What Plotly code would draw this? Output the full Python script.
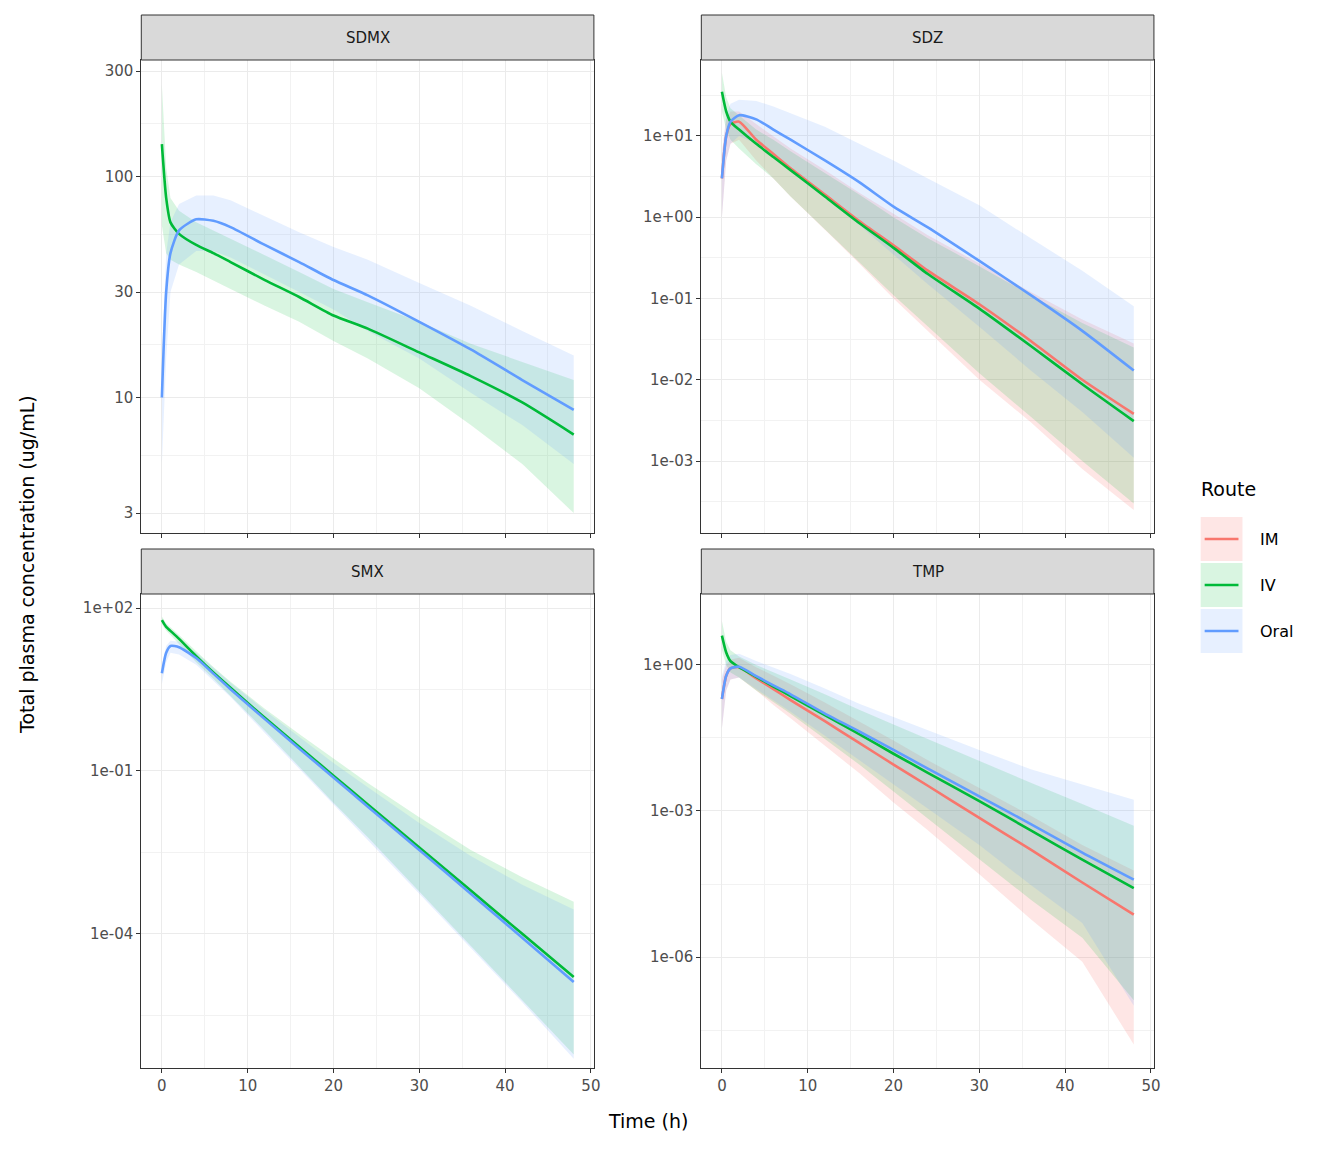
import plotly.graph_objects as go

time_h = [0, 0.5, 1, 2, 4, 6, 8, 12, 16, 20, 24, 30, 36, 42, 48]
routes = ["IM", "IV", "Oral"]
drugs = ["SDMX", "SDZ", "SMX", "TMP"]
colors = {"IM": "#F8766D", "IV": "#00BA38", "Oral": "#619CFF"}
fills = {"IM": "rgba(248,118,109,0.18)", "IV": "rgba(0,186,56,0.15)", "Oral": "rgba(97,156,255,0.15)"}

SDMX_IV_med = [140, 80, 62, 55, 49, 45, 41, 34, 28.5, 23.5, 20.5, 16, 12.5, 9.5, 6.8]
SDMX_IV_lo = [60, 45, 42, 40, 37, 34, 31, 26, 22, 18, 15, 11, 7.5, 5, 3]
SDMX_IV_hi = [260, 110, 80, 70, 62, 57, 52, 44, 37, 31, 27, 22, 17.5, 14.5, 12]
SDMX_Oral_med = [10, 30, 45, 57, 64, 63, 59, 49, 41, 34, 29, 22, 16.5, 12, 8.8]
SDMX_Oral_lo = [5, 15, 30, 40, 46, 46, 43, 36, 30, 25, 20, 15, 10.5, 7.5, 5]
SDMX_Oral_hi = [15, 45, 62, 75, 82, 82, 78, 66, 56, 48, 42, 33, 26, 20, 15.5]

SDZ_IM_med = [3, 10, 14, 15, 9, 6, 4, 1.9, 0.9, 0.45, 0.22, 0.085, 0.03, 0.01, 0.0038]
SDZ_IM_lo = [1, 5, 8, 9, 5, 3, 1.8, 0.7, 0.27, 0.1, 0.04, 0.01, 0.003, 0.0008, 0.00025]
SDZ_IM_hi = [6, 16, 20, 20, 14, 10, 7, 3.8, 2, 1.1, 0.6, 0.27, 0.12, 0.055, 0.028]
SDZ_IV_med = [35, 20, 15, 12, 8, 5.5, 3.8, 1.8, 0.85, 0.42, 0.2, 0.075, 0.026, 0.0088, 0.0031]
SDZ_IV_lo = [20, 12, 9, 7, 4.5, 3, 1.8, 0.7, 0.28, 0.11, 0.045, 0.012, 0.0035, 0.001, 0.0003]
SDZ_IV_hi = [60, 30, 22, 18, 12, 9, 6.5, 3.5, 1.9, 1.0, 0.55, 0.25, 0.11, 0.05, 0.025]
SDZ_Oral_med = [3, 10, 15, 18, 16, 12, 9, 5, 2.7, 1.35, 0.75, 0.29, 0.11, 0.04, 0.013]
SDZ_Oral_lo = [1, 5, 8, 10, 8, 5.5, 4, 1.9, 0.8, 0.35, 0.15, 0.045, 0.013, 0.004, 0.0011]
SDZ_Oral_hi = [6, 18, 25, 28, 27, 23, 19, 13, 8, 5, 3, 1.4, 0.55, 0.22, 0.08]

SMX_IV_med = [60, 45, 38, 27, 13, 6.5, 3.4, 0.95, 0.28, 0.082, 0.024, 0.0039, 6.3e-4, 1.0e-4, 1.6e-5]
SMX_IV_lo = [50, 38, 32, 22, 10, 5, 2.4, 0.55, 0.12, 0.026, 0.006, 6e-4, 6e-5, 6e-6, 6e-7]
SMX_IV_hi = [70, 52, 44, 32, 16, 8.2, 4.4, 1.4, 0.48, 0.17, 0.06, 0.014, 0.0035, 0.0011, 3.9e-4]
SMX_Oral_med = [6.3, 15, 20, 19, 12, 6.2, 3.2, 0.9, 0.26, 0.076, 0.022, 0.0035, 5.5e-4, 8.5e-5, 1.3e-5]
SMX_Oral_lo = [4, 10, 15, 14, 9, 4.6, 2.3, 0.5, 0.11, 0.024, 0.0055, 5.5e-4, 5.5e-5, 5.5e-6, 5e-7]
SMX_Oral_hi = [9, 20, 25, 24, 15, 7.8, 4.2, 1.3, 0.42, 0.14, 0.05, 0.011, 0.0027, 8e-4, 2.8e-4]

TMP_IM_med = [0.2, 0.6, 0.85, 0.9, 0.53, 0.32, 0.19, 0.07, 0.025, 0.009, 0.0033, 7.2e-4, 1.6e-4, 3.4e-5, 7.4e-6]
TMP_IM_lo = [0.05, 0.3, 0.5, 0.55, 0.3, 0.15, 0.08, 0.022, 0.006, 0.0015, 4e-4, 5e-5, 6e-6, 8e-7, 1.6e-8]
TMP_IM_hi = [0.5, 1.0, 1.3, 1.4, 0.9, 0.6, 0.4, 0.17, 0.07, 0.028, 0.011, 0.003, 8e-4, 2e-4, 6e-5]
TMP_IV_med = [4, 1.8, 1.2, 0.9, 0.57, 0.36, 0.23, 0.093, 0.038, 0.015, 0.0061, 0.0016, 4e-4, 1e-4, 2.6e-5]
TMP_IV_lo = [2.0, 1.0, 0.7, 0.55, 0.3, 0.17, 0.1, 0.03, 0.009, 0.0025, 7e-4, 1e-4, 1.5e-5, 2.5e-6, 1.3e-7]
TMP_IV_hi = [8, 3, 2, 1.5, 1.0, 0.7, 0.5, 0.25, 0.12, 0.06, 0.03, 0.011, 0.0038, 0.0014, 5e-4]
TMP_Oral_med = [0.2, 0.6, 0.85, 0.92, 0.59, 0.38, 0.25, 0.10, 0.043, 0.018, 0.0074, 0.002, 5.4e-4, 1.4e-4, 3.9e-5]
TMP_Oral_lo = [0.05, 0.3, 0.5, 0.55, 0.32, 0.19, 0.11, 0.035, 0.011, 0.0035, 0.0011, 2e-4, 3e-5, 5e-6, 1e-7]
TMP_Oral_hi = [0.6, 1.2, 1.6, 1.7, 1.2, 0.9, 0.65, 0.33, 0.16, 0.085, 0.045, 0.018, 0.0072, 0.0035, 1.7e-3]

data = {
    "SDMX": {"IV": (SDMX_IV_med, SDMX_IV_lo, SDMX_IV_hi), "Oral": (SDMX_Oral_med, SDMX_Oral_lo, SDMX_Oral_hi)},
    "SDZ": {"IM": (SDZ_IM_med, SDZ_IM_lo, SDZ_IM_hi), "IV": (SDZ_IV_med, SDZ_IV_lo, SDZ_IV_hi), "Oral": (SDZ_Oral_med, SDZ_Oral_lo, SDZ_Oral_hi)},
    "SMX": {"IV": (SMX_IV_med, SMX_IV_lo, SMX_IV_hi), "Oral": (SMX_Oral_med, SMX_Oral_lo, SMX_Oral_hi)},
    "TMP": {"IM": (TMP_IM_med, TMP_IM_lo, TMP_IM_hi), "IV": (TMP_IV_med, TMP_IV_lo, TMP_IV_hi), "Oral": (TMP_Oral_med, TMP_Oral_lo, TMP_Oral_hi)},
}

y_ticks = {
    "SDMX": ([3, 10, 30, 100, 300], ["3", "10", "30", "100", "300"]),
    "SDZ": ([1e-3, 1e-2, 1e-1, 1, 10], ["1e-03", "1e-02", "1e-01", "1e+00", "1e+01"]),
    "SMX": ([1e-4, 1e-1, 1e2], ["1e-04", "1e-01", "1e+02"]),
    "TMP": ([1e-6, 1e-3, 1], ["1e-06", "1e-03", "1e+00"]),
}
y_minor = {
    "SDMX": [5.477, 17.32, 54.77, 173.2],
    "SDZ": [10**-3.5, 10**-2.5, 10**-1.5, 10**-0.5, 10**0.5, 10**1.5],
    "SMX": [10**-5.5, 10**-2.5, 10**0.5],
    "TMP": [10**-7.5, 10**-4.5, 10**-1.5],
}
y_range = {"SDMX": [0.387, 2.527], "SDZ": [-3.886, 1.935], "SMX": [-6.47, 2.258], "TMP": [-8.28, 1.458]}

OFF = 8
W, H = 1344 - 2 * OFF, 1152 - 2 * OFF
def px(v): return (v - OFF) / W
def py(v): return 1 - (v - OFF) / H

xdom = [[px(142), px(597)], [px(705), px(1160)]]
ydom = [[py(533), py(60)], [py(1068), py(594)]]
strip = [[py(60), py(15)], [py(594), py(549)]]

fig = go.Figure()
layout = dict(width=W, height=H, margin=dict(l=0, r=0, t=0, b=0), plot_bgcolor="white",
              paper_bgcolor="white", showlegend=False, font=dict(family="DejaVu Sans", color="#4D4D4D"))
shapes, annots = [], []
for i, d in enumerate(drugs):
    r, c = divmod(i, 2)
    n = i + 1
    xa, ya = ("x" if n == 1 else f"x{n}"), ("y" if n == 1 else f"y{n}")
    for rt in routes:
        if rt not in data[d]:
            continue
        med, lo, hi = data[d][rt]
        fig.add_trace(go.Scatter(x=time_h, y=lo, mode="lines", line=dict(width=0), xaxis=xa, yaxis=ya, hoverinfo="skip"))
        fig.add_trace(go.Scatter(x=time_h, y=hi, mode="lines", line=dict(width=0), fill="tonexty",
                                 fillcolor=fills[rt], xaxis=xa, yaxis=ya, hoverinfo="skip"))
    for rt in routes:
        if rt not in data[d]:
            continue
        med = data[d][rt][0]
        fig.add_trace(go.Scatter(x=time_h, y=med, mode="lines", line=dict(color=colors[rt], width=2.6, shape="spline", smoothing=0.6),
                                 xaxis=xa, yaxis=ya, name=rt))
    tv, tt = y_ticks[d]
    layout["xaxis" + ("" if n == 1 else str(n))] = dict(
        domain=xdom[c], anchor=ya, range=[-2.4, 50.35], tickvals=[0, 10, 20, 30, 40, 50],
        showticklabels=(r == 1), ticks="outside", ticklen=4, tickcolor="#333333",
        tickfont=dict(size=15, color="#4D4D4D"), showgrid=True, gridcolor="#EBEBEB", gridwidth=1.4,
        minor=dict(tickvals=[5, 15, 25, 35, 45], showgrid=True, gridcolor="#F2F2F2", gridwidth=0.7, ticks=""),
        showline=True, linecolor="#333333", linewidth=1, mirror=True, zeroline=False)
    layout["yaxis" + ("" if n == 1 else str(n))] = dict(
        domain=ydom[r], anchor=xa, type="log", range=y_range[d], tickvals=tv, ticktext=tt,
        ticks="outside", ticklen=4, tickcolor="#333333", tickfont=dict(size=15, color="#4D4D4D"),
        showgrid=True, gridcolor="#EBEBEB", gridwidth=1.4,
        minor=dict(tickvals=y_minor[d], showgrid=True, gridcolor="#F2F2F2", gridwidth=0.7, ticks=""),
        showline=True, linecolor="#333333", linewidth=1, mirror=True, zeroline=False)
    shapes.append(dict(type="rect", xref="paper", yref="paper", x0=xdom[c][0], x1=xdom[c][1],
                       y0=strip[r][0], y1=strip[r][1], fillcolor="#D9D9D9", line=dict(color="#333333", width=1)))
    annots.append(dict(text=d, xref="paper", yref="paper", x=sum(xdom[c]) / 2, y=sum(strip[r]) / 2,
                       xanchor="center", yanchor="middle",
                       showarrow=False, font=dict(size=15, color="#1A1A1A")))

annots.append(dict(text="Time (h)", xref="paper", yref="paper", x=px((142 + 1160) / 2), y=py(1121),
                   xanchor="center", yanchor="middle", showarrow=False, font=dict(size=19, color="black")))
annots.append(dict(text="Total plasma concentration (ug/mL)", xref="paper", yref="paper", x=px(27), y=py(564),
                   xanchor="center", yanchor="middle", textangle=-90, showarrow=False, font=dict(size=19, color="black")))
annots.append(dict(text="Route", xref="paper", yref="paper", x=px(1205), y=py(489), xanchor="left",
                   yanchor="middle", showarrow=False, font=dict(size=19, color="black")))
for k, rt in enumerate(routes):
    yc = 539 + 46 * k
    shapes.append(dict(type="rect", xref="paper", yref="paper", x0=px(1207), x1=px(1249),
                       y0=py(yc + 22), y1=py(yc - 22), fillcolor=fills[rt], line=dict(width=0)))
    shapes.append(dict(type="line", xref="paper", yref="paper", x0=px(1211), x1=px(1245),
                       y0=py(yc), y1=py(yc), line=dict(color=colors[rt], width=2.6)))
    annots.append(dict(text=rt, xref="paper", yref="paper", x=px(1265), y=py(yc), xanchor="left",
                       yanchor="middle", showarrow=False, font=dict(size=16, color="black")))
layout["shapes"] = shapes
layout["annotations"] = annots
fig.update_layout(**layout)
fig.write_html("out.html")
